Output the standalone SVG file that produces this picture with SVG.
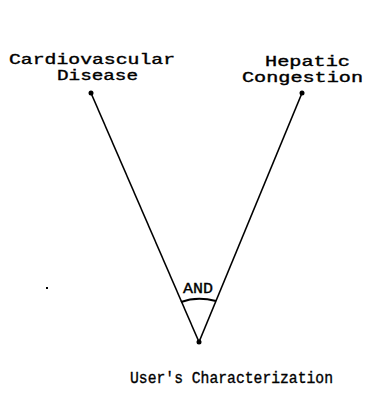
<svg xmlns="http://www.w3.org/2000/svg" width="366" height="396" viewBox="0 0 366 396">
<style>
.t{font-family:"Liberation Mono","Courier New",monospace;fill:#000;stroke:#000;stroke-width:0.35}
.lbl{font-size:14px}
.ln{stroke:#000;stroke-width:1.6;fill:none}
.dot{fill:#000}
</style>
<rect width="366" height="396" fill="#fff"/>
<g id="connectors">
<line class="ln" x1="91" y1="93" x2="199" y2="342"/>
<line class="ln" x1="302" y1="93" x2="199" y2="342"/>
<path d="M181,302 Q197,296 216,301" stroke="#000" stroke-width="2.2" fill="none"/>
<text class="t" x="198" y="293" font-size="15" text-anchor="middle" textLength="30" lengthAdjust="spacingAndGlyphs">AND</text>
</g>
<g id="cardiovascular">
<circle class="dot" cx="91" cy="93" r="2.5"/>
<text class="t lbl" x="92" y="64" text-anchor="middle" textLength="166" lengthAdjust="spacingAndGlyphs">Cardiovascular</text>
<text class="t lbl" x="97.5" y="80" text-anchor="middle" textLength="81" lengthAdjust="spacingAndGlyphs">Disease</text>
</g>
<g id="hepatic">
<circle class="dot" cx="302" cy="93" r="2.5"/>
<text class="t lbl" x="307.5" y="66" text-anchor="middle" textLength="85" lengthAdjust="spacingAndGlyphs">Hepatic</text>
<text class="t lbl" x="302.5" y="82" text-anchor="middle" textLength="121" lengthAdjust="spacingAndGlyphs">Congestion</text>
</g>
<g id="user">
<circle class="dot" cx="199" cy="342" r="2.5"/>
<text class="t" x="231.5" y="383" font-size="16" text-anchor="middle" textLength="203" lengthAdjust="spacingAndGlyphs">User's Characterization</text>
</g>
<rect x="46" y="287" width="2" height="2" fill="#000"/>
</svg>
